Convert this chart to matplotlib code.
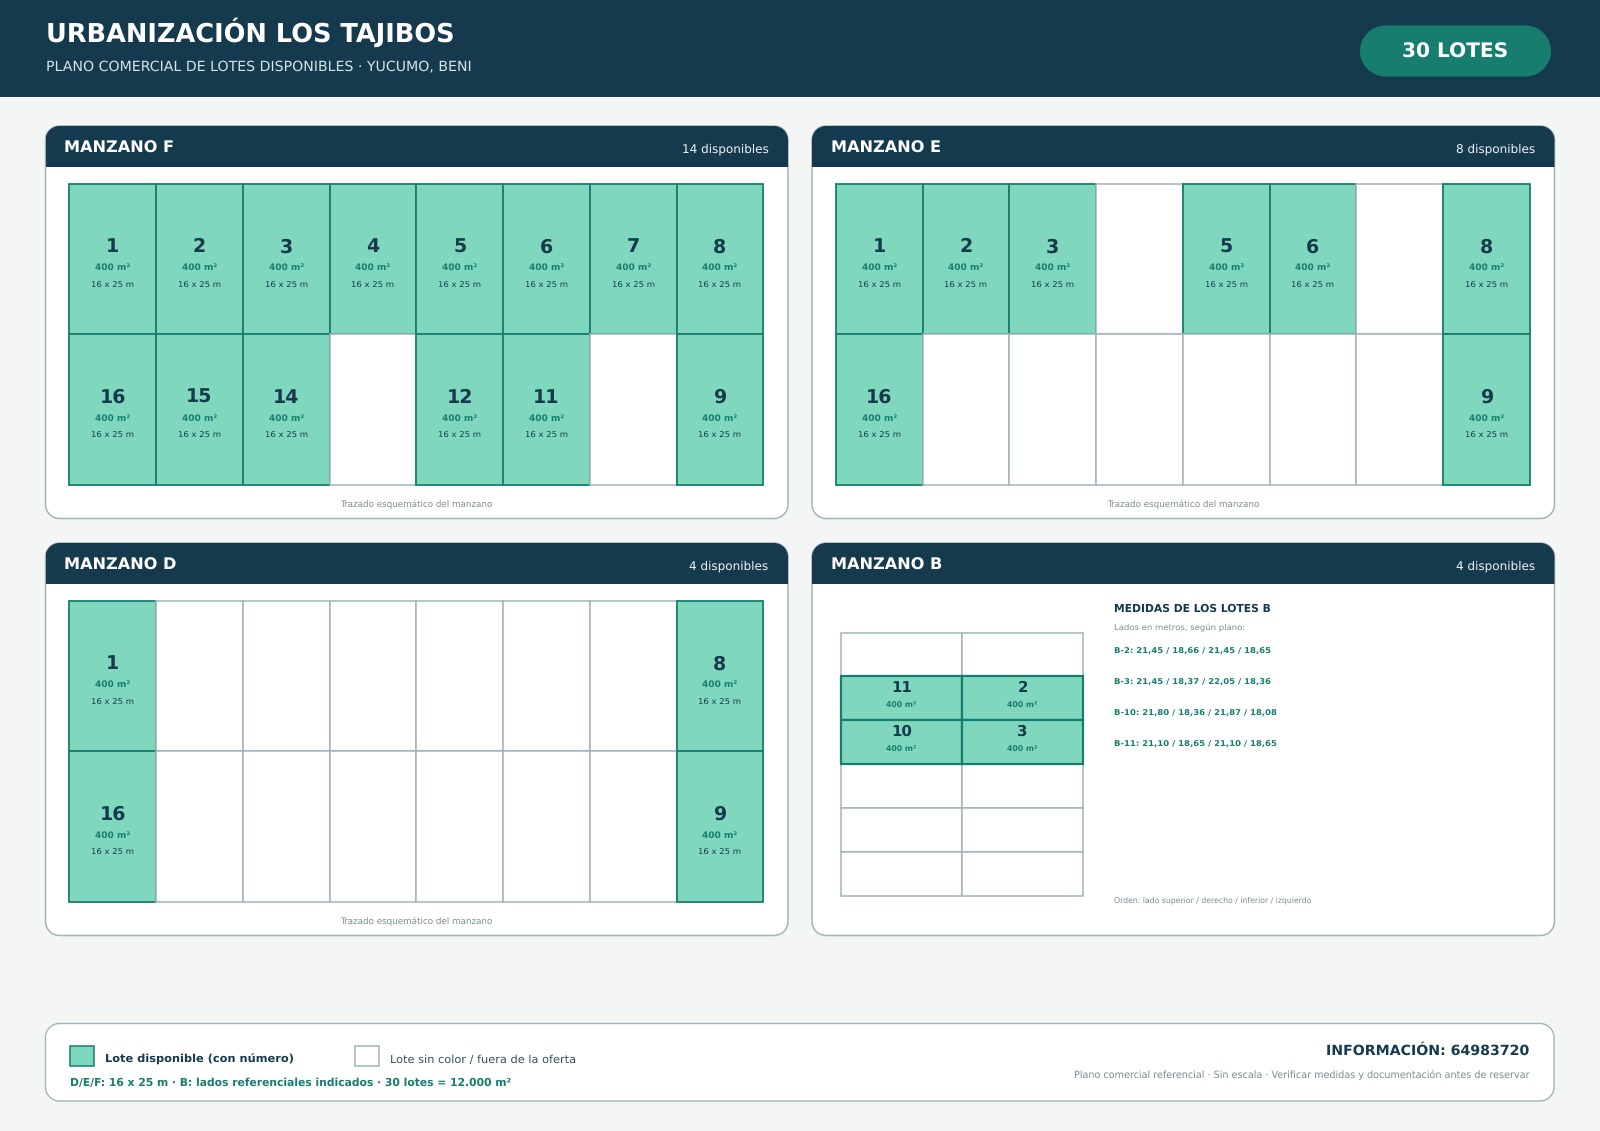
import matplotlib
matplotlib.use("Agg")
import matplotlib.pyplot as plt
from matplotlib.patches import PathPatch, Rectangle
from matplotlib.path import Path

plt.rcParams["text.hinting"] = "no_hinting"
plt.rcParams["text.hinting_factor"] = 8

# lots per block, None = not on offer
f_rows = [[1, 2, 3, 4, 5, 6, 7, 8], [16, 15, 14, None, 12, 11, None, 9]]
e_rows = [[1, 2, 3, None, 5, 6, None, 8], [16, None, None, None, None, None, None, 9]]
d_rows = [[1, None, None, None, None, None, None, 8], [16, None, None, None, None, None, None, 9]]
b_rows = [[None, None], [11, 2], [10, 3], [None, None], [None, None], [None, None]]

block_names = ["MANZANO F", "MANZANO E", "MANZANO D", "MANZANO B"]
block_counts = ["14 disponibles", "8 disponibles", "4 disponibles", "4 disponibles"]
b_sides = ["B-2: 21,45 / 18,66 / 21,45 / 18,65",
           "B-3: 21,45 / 18,37 / 22,05 / 18,36",
           "B-10: 21,80 / 18,36 / 21,87 / 18,08",
           "B-11: 21,10 / 18,65 / 21,10 / 18,65"]

NAVY = "#163a4d"
TEAL = "#177e6f"
GREEN = "#7fd8be"
EDGE = "#a3b4ba"
MUTED = "#7b8b92"
BG = "#f4f6f5"


def px(size):
    return size * 0.72


def label(x, y, s, size, color=NAVY, bold=False, ha="left", z=6):
    ax.text(x, y, s, fontsize=px(size), color=color, ha=ha, va="baseline",
            fontweight="bold" if bold else "normal", zorder=z)


def round_box(x, y, w, h, r, **kw):
    # true circular corners, FancyBboxPatch corners come out too square
    k = r * 0.448
    x1, y1 = x + w, y + h
    verts = [(x + r, y), (x1 - r, y),
             (x1 - k, y), (x1, y + k), (x1, y + r), (x1, y1 - r),
             (x1, y1 - k), (x1 - k, y1), (x1 - r, y1), (x + r, y1),
             (x + k, y1), (x, y1 - k), (x, y1 - r), (x, y + r),
             (x, y + k), (x + k, y), (x + r, y), (x + r, y)]
    codes = [Path.MOVETO, Path.LINETO,
             Path.CURVE4, Path.CURVE4, Path.CURVE4, Path.LINETO,
             Path.CURVE4, Path.CURVE4, Path.CURVE4, Path.LINETO,
             Path.CURVE4, Path.CURVE4, Path.CURVE4, Path.LINETO,
             Path.CURVE4, Path.CURVE4, Path.CURVE4, Path.CLOSEPOLY]
    patch = PathPatch(Path(verts, codes), **kw)
    ax.add_patch(patch)
    return patch


def draw_cell(lot, x, y, w, h, lw, z):
    free = lot is not None
    ax.add_patch(Rectangle((x, y), w, h, facecolor=GREEN if free else "white",
                           edgecolor=TEAL if free else EDGE, lw=lw, zorder=z))


def draw_grid(rows, x0, y0, w, h):
    # plain row order, later cells paint over the shared border
    z = 3
    for r, row in enumerate(rows):
        for c, lot in enumerate(row):
            z += 0.01
            x = x0 + c * w
            y = y0 + r * h
            draw_cell(lot, x, y, w, h, 1.3 if lot is not None else 1.1, z)
            if lot is None:
                continue
            cx = x + w / 2
            label(cx, y + 68.8, str(lot), 19, bold=True, ha="center")
            label(cx, y + 86.5, "400 m²", 9, TEAL, True, "center")
            label(cx, y + 104, "16 x 25 m", 8.5, ha="center")


def draw_grid_b(rows, x0, y0, w, h):
    # block B: green cells on top with a heavier border
    for free in (False, True):
        for r, row in enumerate(rows):
            for c, lot in enumerate(row):
                if (lot is not None) != free:
                    continue
                x = x0 + c * w
                y = y0 + r * h
                draw_cell(lot, x, y, w, h, 1.6 if free else 1.1, 4 if free else 3)
                if free:
                    label(x + w / 2, y + 15.5, str(lot), 15, bold=True, ha="center")
                    label(x + w / 2, y + 31.5, "400 m²", 7.8, TEAL, True, "center")


def draw_card(x, y, name, count):
    w, h = 742.5, 392.5
    card = round_box(x, y, w, h, 14, facecolor="white", edgecolor=EDGE, lw=1.1, zorder=1)
    top = Rectangle((x, y), w, 40.5, facecolor=NAVY, edgecolor="none", zorder=2)
    ax.add_patch(top)
    top.set_clip_path(card)
    label(x + 19, y + 27, name, 16.1, "white", True)
    label(x + w - 19.5, y + 26.5, count, 12, "#eef4f4", ha="right")


fig = plt.figure(figsize=(16, 11.31), dpi=100, facecolor=BG)
ax = fig.add_axes([0, 0, 1, 1])
ax.set_xlim(0, 1600)
ax.set_ylim(1131, 0)
ax.axis("off")
plt.rcParams["font.family"] = "DejaVu Sans"

# header band
ax.add_patch(Rectangle((0, 0), 1600, 97, facecolor=NAVY, edgecolor="none", zorder=1))
label(46, 42, "URBANIZACIÓN LOS TAJIBOS", 25.6, "white", True)
label(46, 71, "PLANO COMERCIAL DE LOTES DISPONIBLES · YUCUMO, BENI", 14.07, "#d4e4e6")
round_box(1360, 25.5, 191, 51, 25.5, facecolor=TEAL, edgecolor="none", zorder=2)
label(1455.5, 57.5, "30 LOTES", 20.2, "white", True, "center")

# blocks
draw_card(45.5, 126, block_names[0], block_counts[0])
draw_card(812, 126, block_names[1], block_counts[1])
draw_card(45.5, 543, block_names[2], block_counts[2])
draw_card(812, 543, block_names[3], block_counts[3])

draw_grid(f_rows, 69.3, 183.5, 86.75, 150.75)
draw_grid(e_rows, 835.8, 183.5, 86.75, 150.75)
draw_grid(d_rows, 69.3, 600.5, 86.75, 150.75)
draw_grid_b(b_rows, 841.1, 632.5, 121, 43.9)

label(416.5, 507, "Trazado esquemático del manzano", 8.75, MUTED, ha="center")
label(1183, 507, "Trazado esquemático del manzano", 8.75, MUTED, ha="center")
label(416.5, 924, "Trazado esquemático del manzano", 8.75, MUTED, ha="center")

# side notes of block B
label(1114.5, 612, "MEDIDAS DE LOS LOTES B", 10.8, bold=True)
label(1114.5, 630, "Lados en metros, según plano:", 8.5, MUTED)
for i, line in enumerate(b_sides):
    label(1114.5, 654 + i * 31, line, 8.5, TEAL, True)
label(1114.5, 902, "Orden: lado superior / derecho / inferior / izquierdo", 7.75, MUTED)

# footer
round_box(45.5, 1023.5, 1508.5, 77.5, 14, facecolor="white", edgecolor=EDGE, lw=1.0, zorder=1)
ax.add_patch(Rectangle((70, 1046), 24, 19.5, facecolor=GREEN, edgecolor=TEAL, lw=1.1, zorder=3))
ax.add_patch(Rectangle((354.5, 1046), 24.5, 19.5, facecolor="white", edgecolor=EDGE, lw=1.1, zorder=3))
label(105, 1062.5, "Lote disponible (con número)", 11.4, bold=True)
label(389.5, 1062.5, "Lote sin color / fuera de la oferta", 11.4, "#34505e")
label(70, 1086, "D/E/F: 16 x 25 m · B: lados referenciales indicados · 30 lotes = 12.000 m²", 10.75, TEAL, True)
label(1529.5, 1055, "INFORMACIÓN: 64983720", 14.1, bold=True, ha="right")
label(1529.5, 1077.5, "Plano comercial referencial · Sin escala · Verificar medidas y documentación antes de reservar", 9.66, MUTED, ha="right")

fig.savefig("out.png", dpi=100, facecolor=BG)
